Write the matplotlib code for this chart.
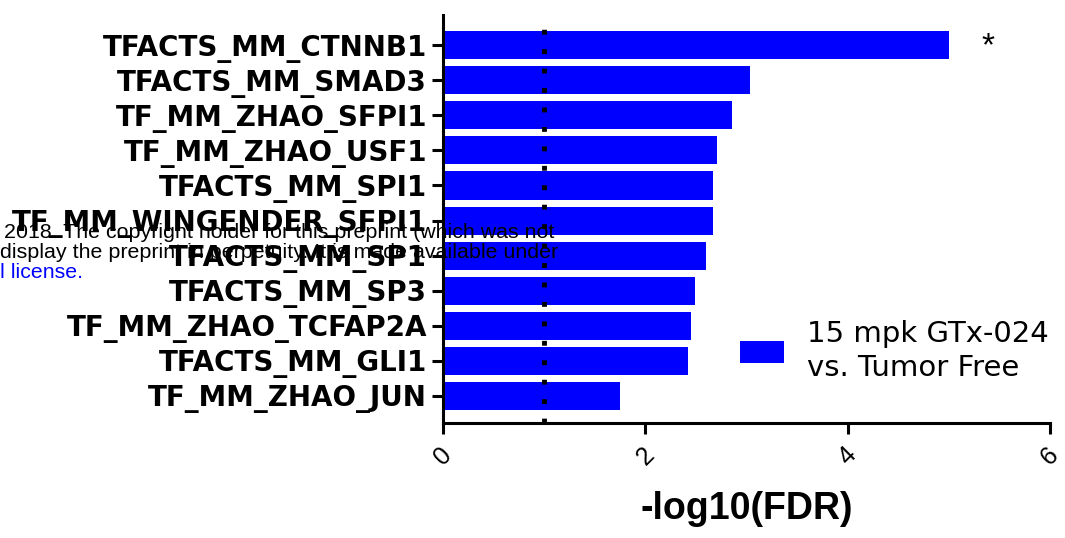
import numpy as np
import matplotlib
matplotlib.use("Agg")
import matplotlib.pyplot as plt

# gene sets (top to bottom) and -log10(FDR) values
gene_sets = ["TFACTS_MM_CTNNB1", "TFACTS_MM_SMAD3", "TF_MM_ZHAO_SFPI1",
             "TF_MM_ZHAO_USF1", "TFACTS_MM_SPI1", "TF_MM_WINGENDER_SFPI1",
             "TFACTS_MM_SP1", "TFACTS_MM_SP3", "TF_MM_ZHAO_TCFAP2A",
             "TFACTS_MM_GLI1", "TF_MM_ZHAO_JUN"]
neglog_fdr = [5.0, 3.03, 2.86, 2.71, 2.67, 2.67, 2.60, 2.49, 2.45, 2.42, 1.75]
xticks = [0, 2, 4, 6]
threshold = 1.0
series_label = "15 mpk GTx-024\nvs. Tumor Free"

plt.rcParams['font.family'] = ['Liberation Sans', 'DejaVu Sans']

fig = plt.figure(figsize=(10.65, 5.38), dpi=100)
ax = fig.add_axes([0.416, 0.2138, 0.570, 0.758])

ypos = np.arange(len(gene_sets))
ax.barh(ypos, neglog_fdr, height=0.8, color="#0000ff", label=series_label)
ax.axvline(threshold, color="black", linestyle=(0, (1, 3)), linewidth=3.5)
ax.text(5.39, 0.05, "*", fontsize=24, ha="center", va="center")

ax.set_xlim(0, 6)
ax.set_ylim(10.77, -0.855)
ax.set_yticks(ypos)
ax.set_yticklabels(gene_sets, fontsize=20, fontweight="bold", family="DejaVu Sans")
ax.set_xticks(xticks)
ax.set_xticklabels([str(t) for t in xticks], fontsize=18, rotation=45)
ax.set_xlabel("-log10(FDR)", fontsize=27, fontweight="bold")
ax.xaxis.set_label_coords(0.5, -0.21)
ax.xaxis.label.set_va("center")

for s in ["top", "right"]:
    ax.spines[s].set_visible(False)
for s in ["left", "bottom"]:
    ax.spines[s].set_linewidth(2.2)
ax.tick_params(width=2.2, length=8)
ax.tick_params(axis="x", pad=6)

leg = ax.legend(loc="center left", bbox_to_anchor=(740 / 1065, 1 - 351 / 538),
                bbox_transform=fig.transFigure, frameon=False, borderpad=0,
                borderaxespad=0, prop={"family": "DejaVu Sans", "size": 21},
                handlelength=1.5, handleheight=0.75, handletextpad=0.8)
for t in leg.get_texts():
    t.set_linespacing(1.25)

# preprint watermark overlay
fig.text(0.004, 1 - 232 / 538, "2018. The copyright holder for this preprint (which was not",
         fontsize=15.4, va="center")
fig.text(0.0, 1 - 252 / 538, "display the preprint in perpetuity. It is made available under",
         fontsize=15.4, va="center")
fig.text(0.0, 1 - 272 / 538, "l license.", fontsize=15.4, va="center", color="#0000ff")

fig.savefig("out.png", dpi=100)
